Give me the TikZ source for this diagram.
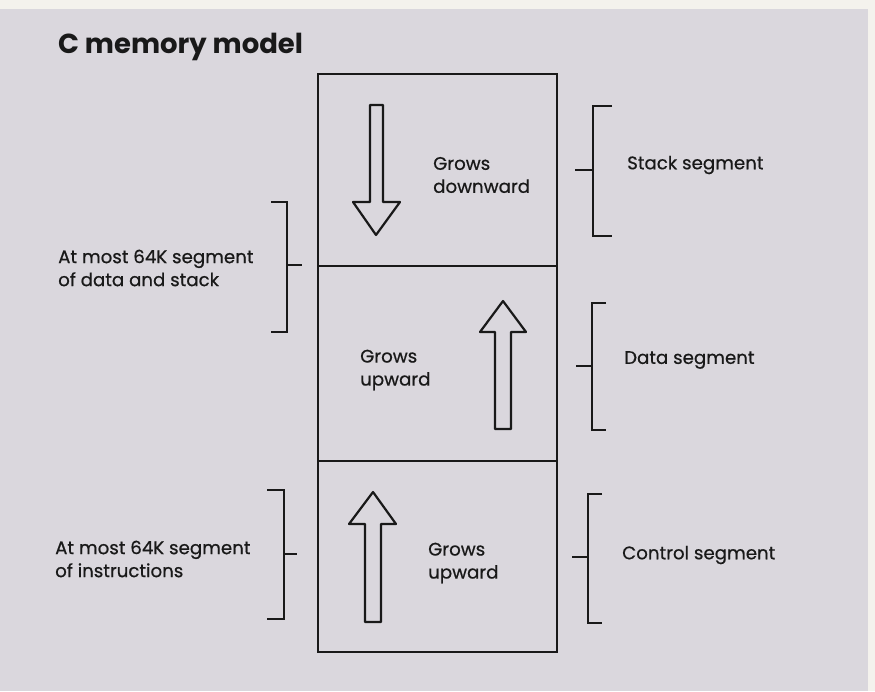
\documentclass[tikz,border=0pt]{standalone}
\usepackage{fontspec}
\setmainfont{Poppins}
\newfontfamily\labfont{Poppins}[FakeBold=0.6]
\definecolor{paper}{RGB}{244,242,237}
\definecolor{tint}{RGB}{218,215,221}
\definecolor{ink}{RGB}{25,25,25}
\begin{document}
\begin{tikzpicture}[x=1pt,y=-1pt,
  seg/.style={draw=ink,line width=2.8pt,minimum width=239pt,inner sep=0pt},
  growarrow/.style={draw=ink,line width=2.2pt,line join=round},
  brace/.style={draw=ink,line width=2pt},
  lab/.style={font=\labfont\fontsize{18.2}{23}\selectfont,text=ink,align=left,anchor=west,inner sep=0pt},
  title/.style={font=\fontsize{27.5}{30}\selectfont\bfseries,text=ink,anchor=base west,inner sep=0pt}]
\useasboundingbox (0,0) rectangle (875,691);
\fill[paper] (0,0) rectangle (875,691);
\fill[tint] (0,9) rectangle (868,691);
% title
\node[title] (ttl) at (58,53) {C memory model};
% segments
\node[seg,minimum height=192pt] (stack) at (437.5,170) {};
\node[seg,minimum height=195pt] (data) at (437.5,363.5) {};
\node[seg,minimum height=191pt] (ctrl) at (437.5,556.5) {};
% arrows
\draw[growarrow] (370,105) -- (383,105) -- (383,202) -- (400,202) -- (376,235) -- (353,202) -- (370,202) -- cycle;
\draw[growarrow] (495,429) -- (511,429) -- (511,332) -- (526,332) -- (503,301) -- (480,332) -- (495,332) -- cycle;
\draw[growarrow] (365,622) -- (381,622) -- (381,524) -- (396,524) -- (373,492) -- (349,524) -- (365,524) -- cycle;
% texts in segments
\node[lab] (t1) at (433,175) {Grows\\downward};
\node[lab] (t2) at (360,370) {Grows\\upward};
\node[lab] (t3) at (428,563) {Grows\\upward};
% left braces
\draw[brace] (271,202) -- (287,202) -- (287,332) -- (271,332);
\draw[brace] (287,265) -- (302,265);
\draw[brace] (267,490) -- (284,490) -- (284,619) -- (267,619);
\draw[brace] (284,554) -- (297,554);
\node[lab] (l1) at (58,268) {At most 64K segment\\of data and stack};
\node[lab] (l2) at (55,559) {At most 64K segment\\of instructions};
% right braces
\draw[brace] (612,106) -- (593,106) -- (593,236) -- (612,236);
\draw[brace] (575,170) -- (593,170);
\draw[brace] (606,303) -- (592,303) -- (592,430) -- (606,430);
\draw[brace] (576,366) -- (592,366);
\draw[brace] (602,494) -- (588,494) -- (588,623) -- (602,623);
\draw[brace] (572,557) -- (588,557);
\node[lab] (r1) at (627,165) {Stack segment};
\node[lab] (r2) at (624,360) {Data segment};
\node[lab] (r3) at (622,555) {Control segment};
\end{tikzpicture}
\end{document}
